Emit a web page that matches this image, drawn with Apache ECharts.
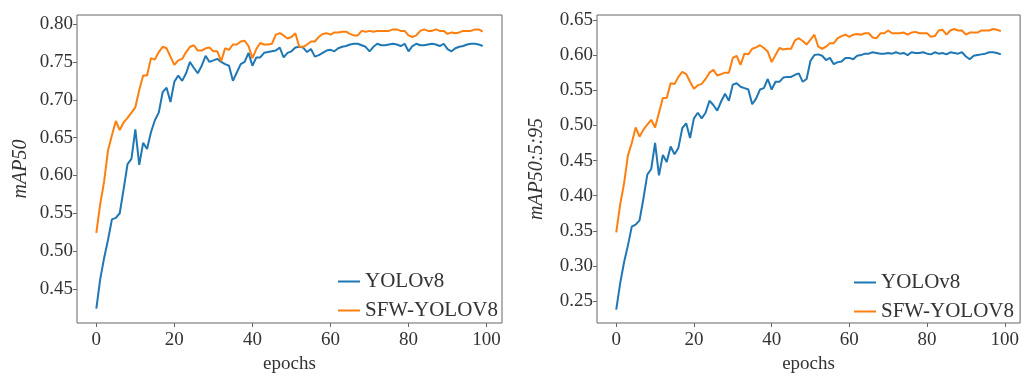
<!DOCTYPE html>
<html>
<head>
<meta charset="utf-8">
<script src="https://cdn.jsdelivr.net/npm/echarts@6/dist/echarts.min.js"></script>
<style>
html,body{margin:0;padding:0;background:#fff;}
#chart{width:1022px;height:379px;}
</style>
</head>
<body>
<div id="chart"></div>
<script>
const epochs = Array.from({length: 100}, (_, i) => i);
const xTicks = [0, 20, 40, 60, 80, 100];
const yTicksLeft = [0.45, 0.50, 0.55, 0.60, 0.65, 0.70, 0.75, 0.80];
const yTicksRight = [0.25, 0.30, 0.35, 0.40, 0.45, 0.50, 0.55, 0.60, 0.65];
const seriesNames = ['YOLOv8', 'SFW-YOLOV8'];

const map50Yolo = [
0.424,0.463,0.491,0.515,0.542,0.544,0.550,0.582,0.615,0.622,
0.661,0.614,0.643,0.635,0.657,0.673,0.683,0.710,0.716,0.697,
0.724,0.732,0.725,0.735,0.750,0.742,0.735,0.745,0.758,0.750,
0.752,0.754,0.750,0.747,0.745,0.725,0.736,0.747,0.750,0.762,
0.745,0.756,0.756,0.762,0.763,0.764,0.765,0.769,0.756,0.762,
0.764,0.769,0.770,0.769,0.763,0.767,0.757,0.759,0.762,0.765,
0.766,0.764,0.768,0.770,0.771,0.773,0.774,0.774,0.772,0.770,
0.764,0.770,0.774,0.772,0.772,0.773,0.774,0.773,0.771,0.774,
0.764,0.771,0.774,0.772,0.772,0.773,0.774,0.773,0.771,0.774,
0.767,0.764,0.768,0.770,0.771,0.773,0.774,0.774,0.773,0.771
];
const map50Sfw = [
0.524,0.562,0.592,0.633,0.653,0.672,0.660,0.670,0.676,0.683,
0.690,0.713,0.732,0.732,0.755,0.753,0.763,0.770,0.768,0.757,
0.746,0.752,0.754,0.763,0.770,0.772,0.765,0.765,0.768,0.769,
0.764,0.764,0.751,0.768,0.766,0.773,0.773,0.777,0.778,0.771,
0.755,0.767,0.775,0.773,0.773,0.774,0.786,0.788,0.785,0.781,
0.783,0.788,0.770,0.770,0.773,0.777,0.777,0.783,0.787,0.788,
0.786,0.789,0.789,0.790,0.790,0.787,0.785,0.785,0.791,0.790,
0.791,0.790,0.791,0.791,0.791,0.791,0.793,0.793,0.791,0.791,
0.785,0.783,0.785,0.791,0.793,0.791,0.791,0.793,0.791,0.791,
0.787,0.789,0.788,0.789,0.791,0.791,0.791,0.793,0.793,0.790
];
const map5095Yolo = [
0.238,0.275,0.305,0.329,0.356,0.359,0.365,0.396,0.430,0.438,
0.475,0.429,0.458,0.448,0.470,0.459,0.468,0.496,0.503,0.482,
0.510,0.518,0.510,0.518,0.535,0.529,0.521,0.534,0.545,0.535,
0.558,0.560,0.555,0.553,0.551,0.530,0.538,0.551,0.553,0.566,
0.551,0.562,0.562,0.568,0.569,0.569,0.572,0.574,0.562,0.566,
0.592,0.600,0.601,0.599,0.593,0.596,0.587,0.590,0.591,0.596,
0.596,0.594,0.599,0.600,0.602,0.602,0.604,0.603,0.602,0.602,
0.603,0.602,0.604,0.602,0.603,0.600,0.604,0.603,0.603,0.604,
0.602,0.601,0.604,0.602,0.603,0.601,0.604,0.603,0.602,0.604,
0.598,0.594,0.599,0.600,0.601,0.602,0.604,0.604,0.603,0.601
];
const map5095Sfw = [
0.348,0.387,0.417,0.457,0.475,0.497,0.484,0.494,0.501,0.508,
0.497,0.518,0.539,0.539,0.560,0.559,0.569,0.576,0.573,0.562,
0.552,0.557,0.559,0.566,0.575,0.579,0.571,0.573,0.575,0.575,
0.596,0.599,0.586,0.602,0.601,0.609,0.611,0.614,0.610,0.605,
0.590,0.600,0.610,0.608,0.609,0.609,0.621,0.624,0.620,0.615,
0.622,0.629,0.612,0.609,0.612,0.617,0.617,0.624,0.627,0.629,
0.626,0.629,0.630,0.629,0.631,0.631,0.625,0.624,0.631,0.631,
0.635,0.631,0.631,0.631,0.632,0.629,0.632,0.633,0.631,0.631,
0.631,0.626,0.627,0.635,0.636,0.629,0.635,0.637,0.635,0.635,
0.629,0.632,0.632,0.632,0.635,0.635,0.635,0.637,0.636,0.634
];

const FONT = 'Liberation Serif';
const TXT = '#333';
const FRAME = '#666';
const BLUE = '#1f77b4';
const ORANGE = '#ff7f0e';

function pairs(arr){ return epochs.map((e, i) => [e, arr[i]]); }

function xAxisDef(gridIndex){
  return {
    type: 'value', gridIndex, min: -4.95, max: 103.95,
    name: 'epochs', nameLocation: 'middle', nameGap: 32,
    nameTextStyle: {fontFamily: FONT, fontSize: 19, color: TXT},
    axisLine: {show: false, onZero: false},
    splitLine: {show: false},
    axisTick: {show: true, length: 4, lineStyle: {color: FRAME}, customValues: xTicks},
    axisLabel: {fontFamily: FONT, fontSize: 19, color: TXT, margin: 8, customValues: xTicks,
      formatter: v => String(Math.round(v))}
  };
}
function yAxisDef(gridIndex, min, max, ticks, name, gap){
  return {
    type: 'value', gridIndex, min, max,
    name, nameLocation: 'middle', nameGap: gap,
    nameTextStyle: {fontFamily: FONT, fontSize: 20, color: TXT, fontStyle: 'italic'},
    axisLine: {show: false, onZero: false},
    splitLine: {show: false},
    axisTick: {show: true, length: 4, lineStyle: {color: FRAME}, customValues: ticks},
    axisLabel: {fontFamily: FONT, fontSize: 19, color: TXT, margin: 4, customValues: ticks,
      formatter: v => v.toFixed(2)}
  };
}
function legendDef(left, top){
  return {
    orient: 'vertical', left, top,
    data: seriesNames.map(n => ({name: n, icon: 'rect'})),
    itemWidth: 22, itemHeight: 2, itemGap: 8,
    textStyle: {fontFamily: FONT, fontSize: 21, color: TXT, lineHeight: 20},
    selectedMode: false
  };
}
function lineSeries(name, data, color, xi, yi){
  return {
    name, type: 'line', xAxisIndex: xi, yAxisIndex: yi,
    data: pairs(data), showSymbol: false, symbol: 'none',
    lineStyle: {color, width: 2}, itemStyle: {color},
    animation: false
  };
}

const chart = echarts.init(document.getElementById('chart'), null, {renderer: 'canvas'});
chart.setOption({
  backgroundColor: '#fff',
  animation: false,
  grid: [
    {left: 77, right: 520, top: 15, bottom: 49, show: true, borderColor: FRAME, borderWidth: 1, backgroundColor: 'transparent'},
    {left: 597, right: 1, top: 15, bottom: 50, show: true, borderColor: FRAME, borderWidth: 1, backgroundColor: 'transparent'}
  ],
  xAxis: [xAxisDef(0), xAxisDef(1)],
  yAxis: [
    yAxisDef(0, 0.405, 0.812, yTicksLeft, 'mAP50', 46),
    yAxisDef(1, 0.219, 0.657, yTicksRight, 'mAP50:5:95', 50)
  ],
  legend: [legendDef(333, 266), legendDef(849, 267)],
  series: [
    lineSeries(seriesNames[0], map50Yolo, BLUE, 0, 0),
    lineSeries(seriesNames[1], map50Sfw, ORANGE, 0, 0),
    lineSeries(seriesNames[0], map5095Yolo, BLUE, 1, 1),
    lineSeries(seriesNames[1], map5095Sfw, ORANGE, 1, 1)
  ]
});
</script>
</body>
</html>
